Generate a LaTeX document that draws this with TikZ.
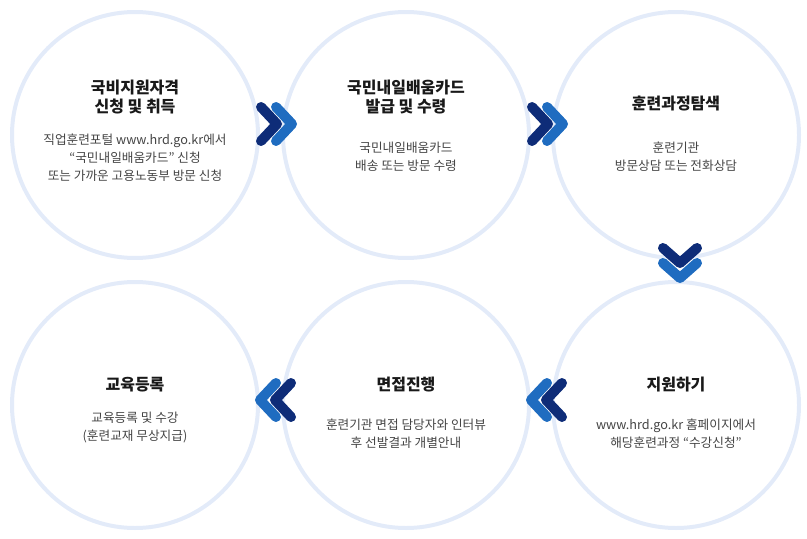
\documentclass[tikz,border=0pt]{standalone}
\usepackage{fontspec}
\setmainfont{Noto Sans CJK KR}
\usepackage{tikz}

\definecolor{ringblue}{HTML}{E3EBF9}
\definecolor{navy}{HTML}{0E2C78}
\definecolor{midblue}{HTML}{1F6CC0}
\definecolor{bodygray}{HTML}{444444}

\tikzset{
  ring/.style={draw=ringblue, line width=3pt},
  title/.style={font=\bfseries\fontsize{12}{14}\selectfont, text=black!90, align=center},
  body/.style={font=\fontsize{9.5}{13.5}\selectfont, text=bodygray, align=center},
  chev/.style={line width=7.5pt, line cap=round, line join=round}
}

\begin{document}
\begin{tikzpicture}[x=0.75pt,y=-0.75pt]
  \useasboundingbox (0,0) rectangle (807,539);

  % Circles
  \draw[ring] (135,135) circle (123);
  \draw[ring] (406,135) circle (123);
  \draw[ring] (676,135) circle (123);
  \draw[ring] (676,405) circle (123);
  \draw[ring] (406,405) circle (123);
  \draw[ring] (135,405) circle (123);

  % Texts of the first row
  \node[title] (t1) at (135,97) {국비지원자격\\신청 및 취득};
  \node[body] (b1) at (135,158) {직업훈련포털 www.hrd.go.kr에서\\“국민내일배움카드” 신청\\또는 가까운 고용노동부 방문 신청};
  \node[title] (t2) at (406,97) {국민내일배움카드\\발급 및 수령};
  \node[body] (b2) at (406,157) {국민내일배움카드\\배송 또는 방문 수령};
  \node[title] (t3) at (676,104) {훈련과정탐색};
  \node[body] (b3) at (676,157) {훈련기관\\방문상담 또는 전화상담};

  % Texts of the second row
  \node[title] (t4) at (676,385) {지원하기};
  \node[body] (b4) at (676,434) {www.hrd.go.kr 홈페이지에서\\해당훈련과정 “수강신청”};
  \node[title] (t5) at (406,385) {면접진행};
  \node[body] (b5) at (406,434) {훈련기관 면접 담당자와 인터뷰\\후 선발결과 개별안내};
  \node[title] (t6) at (135,385) {교육등록};
  \node[body] (b6) at (135,427) {교육등록 및 수강\\(훈련교재 무상지급)};

  % Chevrons pointing right
  \foreach \cx in {261,532}{
    \draw[chev, navy] (\cx,107) -- (\cx+16,124) -- (\cx,141);
    \draw[chev, midblue] (\cx+15,107) -- (\cx+31,124) -- (\cx+15,141);
  }
  % Chevron pointing down
  \draw[chev, navy] (663,248) -- (680,263) -- (697,248);
  \draw[chev, midblue] (663,263) -- (680,278) -- (697,263);
  % Chevrons pointing left
  \foreach \cx in {562,291}{
    \draw[chev, navy] (\cx,383) -- (\cx-16,400) -- (\cx,417);
    \draw[chev, midblue] (\cx-15,383) -- (\cx-31,400) -- (\cx-15,417);
  }
\end{tikzpicture}
\end{document}
